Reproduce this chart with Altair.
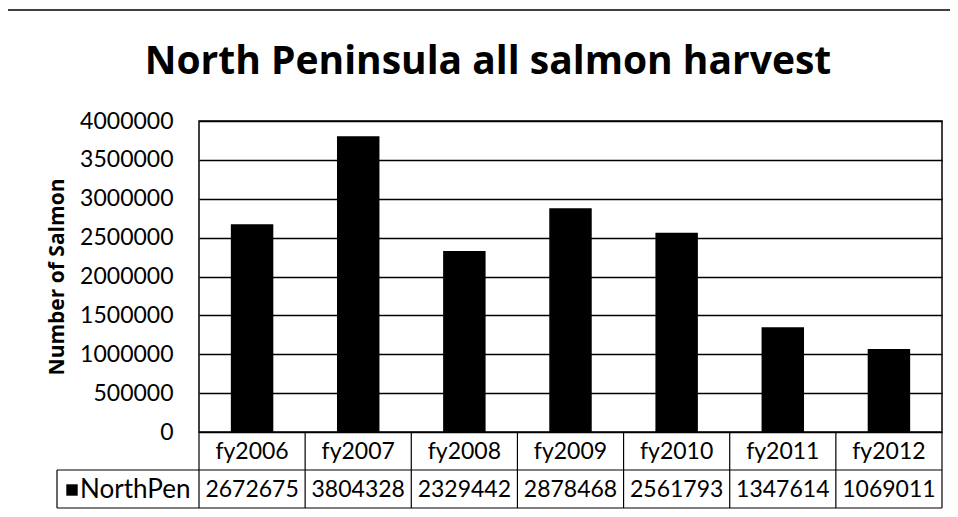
import altair as alt
import pandas as pd

TITLE = "North Peninsula all salmon harvest"
Y_TITLE = "Number of Salmon"
SERIES = "NorthPen"
categories = ["fy2006", "fy2007", "fy2008", "fy2009", "fy2010", "fy2011", "fy2012"]
values = [2672675, 3804328, 2329442, 2878468, 2561793, 1347614, 1069011]
y_ticks = [0, 500000, 1000000, 1500000, 2000000, 2500000, 3000000, 3500000, 4000000]

FONT = "Lato"
TFONT = "Open Sans"
W, H = 743, 311
ROW = 38

df = pd.DataFrame({"cat": categories, "value": values})
xenc = alt.X("cat:N", sort=categories,
             scale=alt.Scale(paddingInner=0, paddingOuter=0), axis=None)

bars = alt.Chart(df).mark_bar(color="black", width=alt.RelativeBandSize(0.4)).encode(
    x=xenc,
    y=alt.Y("value:Q",
            scale=alt.Scale(domain=[0, 4000000], nice=False),
            axis=alt.Axis(values=y_ticks, format="d", title=Y_TITLE,
                          grid=True, gridColor="black", gridWidth=1.5, gridOpacity=1,
                          domain=False, ticks=False, labelPadding=26,
                          labelFont=FONT, labelFontSize=23, labelColor="black",
                          titleFont=TFONT, titleFontSize=21, titleFontWeight="bold",
                          titleColor="black", titleX=-136, titleY=H / 2,
                          titleAlign="center", titleBaseline="alphabetic", titleAngle=-90)),
)

header = alt.Chart(df).mark_text(font=FONT, fontSize=23, color="black", baseline="middle").encode(
    x=xenc, y=alt.value(H + ROW / 2 + 1), text="cat:N")
vals = alt.Chart(df).mark_text(font=FONT, fontSize=23, color="black", baseline="middle").encode(
    x=xenc, y=alt.value(H + ROW * 1.5 + 1), text=alt.Text("value:Q", format="d"))

vsep = alt.Chart(df).mark_rule(color="black", strokeWidth=1.2).encode(
    x=alt.X("cat:N", sort=categories, bandPosition=0,
            scale=alt.Scale(paddingInner=0, paddingOuter=0), axis=None),
    y=alt.value(H), y2=alt.value(H + 2 * ROW))

one = pd.DataFrame({"series": [SERIES], "title": [TITLE]})
base1 = alt.Chart(one)
right_edge = base1.mark_rule(color="black", strokeWidth=1.2).encode(
    x=alt.value(W), y=alt.value(H), y2=alt.value(H + 2 * ROW))
row_sep = base1.mark_rule(color="black", strokeWidth=1.2).encode(
    x=alt.value(-142), x2=alt.value(W), y=alt.value(H + ROW))
bottom = base1.mark_rule(color="black", strokeWidth=1.2).encode(
    x=alt.value(-142), x2=alt.value(W), y=alt.value(H + 2 * ROW))
leg_left = base1.mark_rule(color="black", strokeWidth=1.2).encode(
    x=alt.value(-142), y=alt.value(H + ROW), y2=alt.value(H + 2 * ROW))
leg_sq = base1.mark_square(color="black", opacity=1, size=130).encode(
    x=alt.value(-127), y=alt.value(H + ROW * 1.5 + 1))
leg_txt = base1.mark_text(font=FONT, fontSize=26, color="black", align="left", baseline="middle").encode(
    x=alt.value(-119), y=alt.value(H + ROW * 1.5 + 1), text="series:N")
title = base1.mark_text(font=TFONT, fontSize=39, fontWeight="bold", color="black",
                        align="center", baseline="alphabetic").encode(
    x=alt.value(289), y=alt.value(-47), text="title:N")
frame_left = base1.mark_rule(color="black", strokeWidth=1.2).encode(
    x=alt.value(-193), y=alt.value(-111), y2=alt.value(H + 2 * ROW + 2))
frame_top = base1.mark_rule(color="black", strokeWidth=1.5).encode(
    x=alt.value(-193), x2=alt.value(W + 16), y=alt.value(-111))

chart = alt.layer(
    bars, header, vals, vsep, right_edge, row_sep, bottom, leg_left,
    leg_sq, leg_txt, title, frame_left, frame_top,
).properties(
    width=W, height=H,
    autosize=alt.AutoSizeParams(type="none"),
    padding={"left": 191, "top": 113, "right": 8, "bottom": 77},
    background="white",
).configure_view(stroke="black", strokeWidth=1.5)

chart.save("out.html", embed_options={"renderer": "svg", "actions": False})
